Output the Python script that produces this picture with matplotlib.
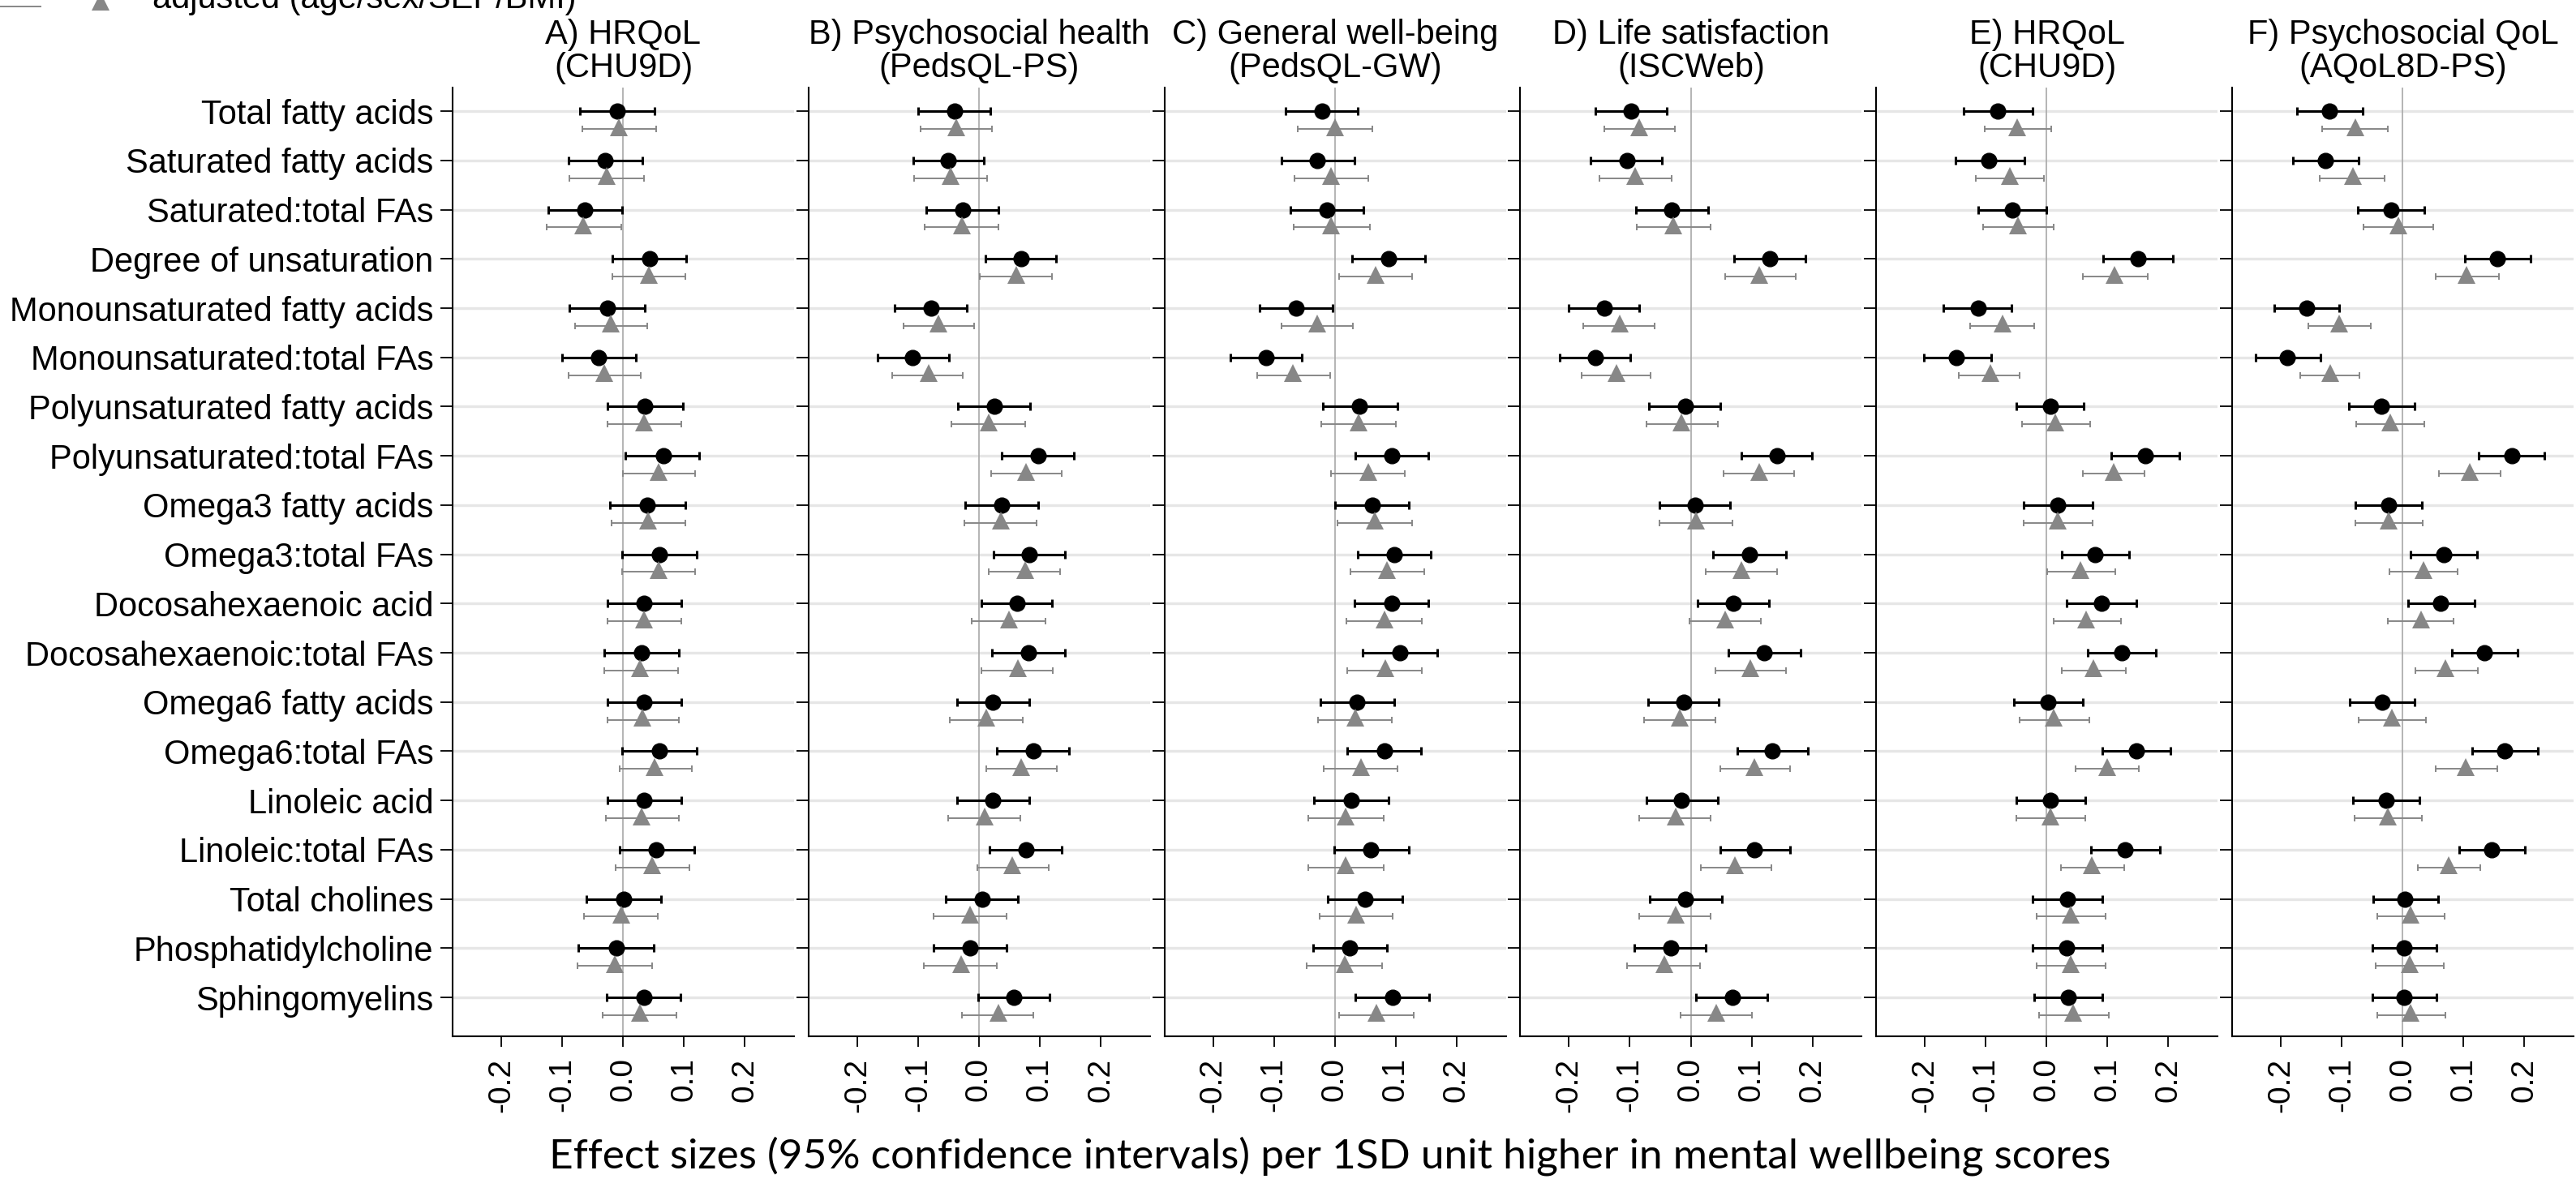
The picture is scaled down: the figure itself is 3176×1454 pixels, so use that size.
import matplotlib.pyplot as plt
from matplotlib.lines import Line2D
import numpy as np

plt.rcParams['font.family'] = ['Liberation Sans', 'DejaVu Sans']

labels = ["Total fatty acids", "Saturated fatty acids", "Saturated:total FAs",
          "Degree of unsaturation", "Monounsaturated fatty acids",
          "Monounsaturated:total FAs", "Polyunsaturated fatty acids",
          "Polyunsaturated:total FAs", "Omega3 fatty acids", "Omega3:total FAs",
          "Docosahexaenoic acid", "Docosahexaenoic:total FAs", "Omega6 fatty acids",
          "Omega6:total FAs", "Linoleic acid", "Linoleic:total FAs",
          "Total cholines", "Phosphatidylcholine", "Sphingomyelins"]

titles = ["A) HRQoL\n(CHU9D)", "B) Psychosocial health\n(PedsQL-PS)",
          "C) General well-being\n(PedsQL-GW)", "D) Life satisfaction\n(ISCWeb)",
          "E) HRQoL\n(CHU9D)", "F) Psychosocial QoL\n(AQoL8D-PS)"]

xticks = [-0.2, -0.1, 0.0, 0.1, 0.2]
xtick_labels = ["-0.2", "-0.1", "0.0", "0.1", "0.2"]

# A) HRQoL (CHU9D)
a_est = [-0.009, -0.030, -0.063, 0.044, -0.026, -0.040, 0.036, 0.066, 0.040, 0.060,
         0.035, 0.030, 0.034, 0.060, 0.035, 0.055, 0.001, -0.011, 0.034]
a_lo = [-0.071, -0.090, -0.123, -0.017, -0.088, -0.100, -0.025, 0.004, -0.021, -0.001,
        -0.026, -0.031, -0.026, -0.001, -0.026, -0.006, -0.060, -0.073, -0.027]
a_hi = [0.052, 0.032, -0.001, 0.104, 0.036, 0.021, 0.099, 0.125, 0.102, 0.121,
        0.096, 0.092, 0.096, 0.121, 0.096, 0.117, 0.063, 0.050, 0.094]
a_adj = [-0.007, -0.027, -0.065, 0.042, -0.020, -0.031, 0.035, 0.059, 0.041, 0.058,
         0.035, 0.028, 0.032, 0.052, 0.031, 0.048, -0.003, -0.013, 0.028]
a_adj_lo = [-0.067, -0.088, -0.125, -0.017, -0.079, -0.090, -0.025, 0.000, -0.019, -0.002,
            -0.025, -0.031, -0.026, -0.006, -0.028, -0.012, -0.064, -0.075, -0.033]
a_adj_hi = [0.055, 0.034, -0.003, 0.102, 0.040, 0.029, 0.096, 0.119, 0.103, 0.119,
            0.096, 0.090, 0.092, 0.113, 0.092, 0.109, 0.057, 0.048, 0.088]

# B) Psychosocial health (PedsQL-PS)
b_est = [-0.040, -0.050, -0.026, 0.069, -0.079, -0.109, 0.026, 0.097, 0.037, 0.083,
         0.063, 0.082, 0.023, 0.089, 0.023, 0.078, 0.005, -0.014, 0.057]
b_lo = [-0.100, -0.108, -0.086, 0.011, -0.138, -0.167, -0.034, 0.038, -0.022, 0.024,
        0.004, 0.022, -0.036, 0.030, -0.036, 0.018, -0.055, -0.074, -0.001]
b_hi = [0.019, 0.008, 0.032, 0.127, -0.020, -0.049, 0.084, 0.156, 0.097, 0.141,
        0.120, 0.141, 0.083, 0.148, 0.083, 0.136, 0.064, 0.045, 0.116]
b_adj = [-0.037, -0.047, -0.028, 0.061, -0.066, -0.083, 0.016, 0.078, 0.036, 0.076,
         0.049, 0.064, 0.012, 0.070, 0.009, 0.055, -0.015, -0.029, 0.032]
b_adj_lo = [-0.096, -0.106, -0.089, 0.002, -0.124, -0.142, -0.045, 0.020, -0.024, 0.016,
            -0.012, 0.004, -0.048, 0.012, -0.050, -0.003, -0.074, -0.090, -0.028]
b_adj_hi = [0.022, 0.013, 0.032, 0.120, -0.008, -0.026, 0.076, 0.136, 0.095, 0.134,
            0.109, 0.122, 0.072, 0.128, 0.068, 0.115, 0.046, 0.030, 0.090]

# C) General well-being (PedsQL-GW)
c_est = [-0.021, -0.029, -0.013, 0.088, -0.064, -0.113, 0.041, 0.093, 0.061, 0.098,
         0.093, 0.107, 0.037, 0.082, 0.027, 0.059, 0.050, 0.024, 0.095]
c_lo = [-0.081, -0.088, -0.073, 0.028, -0.124, -0.171, -0.020, 0.034, 0.001, 0.038,
        0.032, 0.046, -0.023, 0.021, -0.034, -0.001, -0.011, -0.036, 0.034]
c_hi = [0.038, 0.032, 0.047, 0.148, -0.004, -0.054, 0.103, 0.154, 0.121, 0.157,
        0.153, 0.168, 0.098, 0.141, 0.088, 0.121, 0.111, 0.085, 0.155]
c_adj = [0.000, -0.006, -0.006, 0.067, -0.029, -0.069, 0.039, 0.055, 0.065, 0.086,
         0.081, 0.083, 0.034, 0.043, 0.018, 0.018, 0.035, 0.016, 0.068]
c_adj_lo = [-0.061, -0.066, -0.067, 0.007, -0.088, -0.127, -0.022, -0.006, 0.005, 0.026,
            0.019, 0.021, -0.028, -0.018, -0.044, -0.043, -0.025, -0.046, 0.007]
c_adj_hi = [0.061, 0.055, 0.057, 0.127, 0.030, -0.008, 0.100, 0.115, 0.127, 0.147,
            0.143, 0.143, 0.094, 0.103, 0.080, 0.080, 0.095, 0.078, 0.129]

# D) Life satisfaction (ISCWeb)
d_est = [-0.098, -0.105, -0.032, 0.130, -0.142, -0.157, -0.009, 0.142, 0.007, 0.096,
         0.070, 0.121, -0.012, 0.134, -0.015, 0.104, -0.009, -0.033, 0.068]
d_lo = [-0.156, -0.165, -0.090, 0.071, -0.200, -0.215, -0.068, 0.083, -0.052, 0.037,
        0.011, 0.062, -0.070, 0.077, -0.072, 0.048, -0.067, -0.092, 0.009]
d_hi = [-0.039, -0.047, 0.028, 0.188, -0.084, -0.099, 0.049, 0.199, 0.065, 0.156,
        0.128, 0.180, 0.046, 0.192, 0.044, 0.163, 0.051, 0.025, 0.126]
d_adj = [-0.084, -0.091, -0.029, 0.112, -0.117, -0.122, -0.015, 0.112, 0.008, 0.083,
         0.056, 0.098, -0.018, 0.105, -0.025, 0.073, -0.025, -0.044, 0.042]
d_adj_lo = [-0.142, -0.150, -0.088, 0.056, -0.176, -0.179, -0.072, 0.054, -0.052, 0.025,
            -0.002, 0.040, -0.077, 0.048, -0.084, 0.016, -0.084, -0.104, -0.017]
d_adj_hi = [-0.026, -0.032, 0.032, 0.172, -0.059, -0.066, 0.044, 0.170, 0.068, 0.142,
            0.115, 0.157, 0.040, 0.163, 0.033, 0.132, 0.033, 0.015, 0.100]

# E) HRQoL (CHU9D)
e_est = [-0.080, -0.095, -0.056, 0.150, -0.113, -0.148, 0.006, 0.162, 0.018, 0.080,
         0.090, 0.123, 0.002, 0.147, 0.006, 0.129, 0.034, 0.033, 0.036]
e_lo = [-0.136, -0.150, -0.113, 0.093, -0.169, -0.202, -0.050, 0.106, -0.038, 0.025,
        0.033, 0.068, -0.054, 0.091, -0.050, 0.073, -0.023, -0.023, -0.021]
e_hi = [-0.023, -0.037, 0.000, 0.208, -0.058, -0.091, 0.061, 0.218, 0.075, 0.136,
        0.147, 0.180, 0.059, 0.203, 0.063, 0.186, 0.091, 0.091, 0.092]
e_adj = [-0.048, -0.061, -0.047, 0.112, -0.073, -0.093, 0.014, 0.110, 0.018, 0.056,
         0.065, 0.077, 0.012, 0.099, 0.006, 0.074, 0.040, 0.040, 0.044]
e_adj_lo = [-0.102, -0.116, -0.105, 0.059, -0.126, -0.144, -0.041, 0.059, -0.038, 0.001,
            0.011, 0.025, -0.044, 0.048, -0.050, 0.023, -0.017, -0.017, -0.012]
e_adj_hi = [0.007, -0.005, 0.011, 0.166, -0.020, -0.044, 0.072, 0.161, 0.075, 0.113,
            0.122, 0.130, 0.070, 0.151, 0.063, 0.128, 0.097, 0.097, 0.102]

# F) Psychosocial QoL (AQoL8D-PS)
f_est = [-0.120, -0.127, -0.019, 0.156, -0.158, -0.189, -0.035, 0.180, -0.023, 0.068,
         0.062, 0.135, -0.034, 0.168, -0.027, 0.147, 0.004, 0.003, 0.003]
f_lo = [-0.173, -0.180, -0.073, 0.102, -0.211, -0.242, -0.088, 0.125, -0.077, 0.013,
        0.009, 0.081, -0.087, 0.114, -0.081, 0.093, -0.048, -0.050, -0.050]
f_hi = [-0.066, -0.072, 0.036, 0.210, -0.104, -0.135, 0.020, 0.233, 0.032, 0.122,
        0.118, 0.189, 0.020, 0.222, 0.028, 0.201, 0.059, 0.056, 0.056]
f_adj = [-0.078, -0.082, -0.007, 0.105, -0.104, -0.119, -0.020, 0.110, -0.023, 0.034,
         0.030, 0.071, -0.018, 0.104, -0.024, 0.076, 0.013, 0.012, 0.013]
f_adj_lo = [-0.132, -0.136, -0.064, 0.054, -0.155, -0.168, -0.076, 0.060, -0.077, -0.021,
            -0.024, 0.021, -0.072, 0.054, -0.079, 0.025, -0.041, -0.044, -0.041]
f_adj_hi = [-0.024, -0.029, 0.051, 0.159, -0.052, -0.071, 0.036, 0.161, 0.033, 0.091,
            0.084, 0.124, 0.039, 0.156, 0.032, 0.128, 0.069, 0.068, 0.070]

panels = [
    (a_est, a_lo, a_hi, a_adj, a_adj_lo, a_adj_hi),
    (b_est, b_lo, b_hi, b_adj, b_adj_lo, b_adj_hi),
    (c_est, c_lo, c_hi, c_adj, c_adj_lo, c_adj_hi),
    (d_est, d_lo, d_hi, d_adj, d_adj_lo, d_adj_hi),
    (e_est, e_lo, e_hi, e_adj, e_adj_lo, e_adj_hi),
    (f_est, f_lo, f_hi, f_adj, f_adj_lo, f_adj_hi),
]

W, H = 3176, 1454
GRAY = '#878787'


def main():
    fig = plt.figure(figsize=(W / 100, H / 100), dpi=100)
    rows = np.arange(1, len(labels) + 1)

    for i, (est, lo, hi, adj, adj_lo, adj_hi) in enumerate(panels):
        left = (558 + i * 438.8) / W
        ax = fig.add_axes([left, (H - 1278) / H, 421 / W, (1278 - 108) / H])
        est, lo, hi = np.array(est), np.array(lo), np.array(hi)
        adj, adj_lo, adj_hi = np.array(adj), np.array(adj_lo), np.array(adj_hi)

        ax.axvline(0, color='#a8a8a8', lw=1.2, zorder=1)
        ax.errorbar(est, rows, xerr=[est - lo, hi - est], fmt='none', ecolor='black',
                    elinewidth=2.2, capsize=3.6, capthick=2.2, zorder=3)
        ax.plot(est, rows, 'o', color='black', ms=13.5, zorder=4)
        ax.errorbar(adj, rows + 0.36, xerr=[adj - adj_lo, adj_hi - adj], fmt='none',
                    ecolor=GRAY, elinewidth=1.4, capsize=3.2, capthick=1.4, zorder=3)
        ax.plot(adj, rows + 0.32, '^', color=GRAY, ms=16, mew=0, zorder=4)

        ax.set_xlim(-0.28, 0.281)
        ax.set_ylim(len(labels) + 0.79, 0.52)
        ax.set_yticks(rows)
        ax.yaxis.grid(True, color='#e6e6e6', lw=2.4, zorder=0)
        ax.set_axisbelow(True)
        if i == 0:
            ax.set_yticklabels(labels, fontsize=30)
        else:
            ax.set_yticklabels([])
        ax.set_xticks(xticks)
        ax.set_xticklabels(xtick_labels, rotation=90, fontsize=28)
        ax.tick_params(axis='y', length=11, width=1.3, pad=6)
        ax.tick_params(axis='x', length=9, width=1.3, pad=10)
        for s in ['top', 'right']:
            ax.spines[s].set_visible(False)
        for s in ['left', 'bottom']:
            ax.spines[s].set_linewidth(1.5)
        ax.set_title(titles[i], fontsize=30, linespacing=1.05, pad=9)

    # partly cut legend in the top left corner
    fig.add_artist(Line2D([0, 50 / W], [1 - 8 / H, 1 - 8 / H], color=GRAY, lw=1.4))
    fig.add_artist(Line2D([124 / W], [1 - 2 / H], marker='^', color=GRAY, ms=16, mew=0))
    fig.text(188 / W, 1 - 10 / H, "adjusted (age/sex/SEP/BMI)", fontsize=30, va='baseline')

    fig.text(1640 / W, 1 - 1426 / H,
             "Effect sizes (95% confidence intervals) per 1SD unit higher in mental wellbeing scores",
             ha='center', va='center', fontsize=37, family=['Lato', 'DejaVu Sans'])

    fig.savefig("out.png", dpi=100)


if __name__ == '__main__':
    main()
